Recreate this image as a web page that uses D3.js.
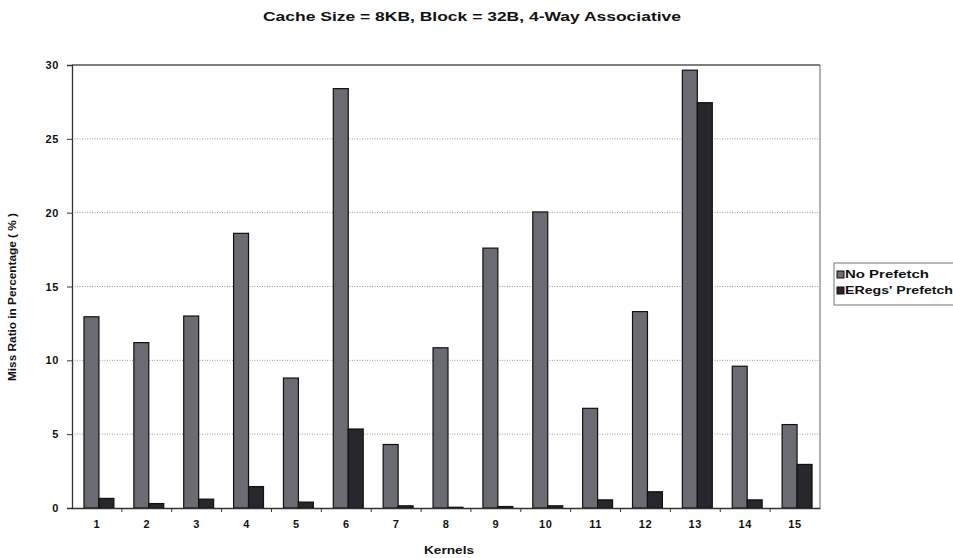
<!DOCTYPE html>
<html><head><meta charset="utf-8">
<script src="https://cdn.jsdelivr.net/npm/d3@7/dist/d3.min.js"></script>
<style>
html,body{margin:0;padding:0;background:#fff;}
svg{display:block;font-family:"Liberation Sans",Arial,sans-serif;}
</style></head>
<body>
<script>
const kernels = ["1","2","3","4","5","6","7","8","9","10","11","12","13","14","15"];
const seriesNames = ["No Prefetch","ERegs' Prefetch"];
const noPrefetch = [12.95, 11.2, 13.0, 18.6, 8.8, 28.4, 4.3, 10.85, 17.6, 20.05, 6.75, 13.3, 29.65, 9.6, 5.65];
const eregsPrefetch = [0.65, 0.3, 0.6, 1.45, 0.4, 5.35, 0.15, 0.05, 0.1, 0.15, 0.55, 1.1, 27.45, 0.55, 2.95];
const yTicks = [0,5,10,15,20,25,30];
const colors = ["#6b6b74","#26262c"];

const W=953,H=558;
const m={left:72,right:133,top:65,bottom:50};
const svg=d3.select("body").append("svg").attr("width",W).attr("height",H);

const x=d3.scaleBand().domain(kernels).range([m.left,W-m.right]).paddingInner(0.4).paddingOuter(0.2);
const x0=d3.scaleBand().domain(kernels).range([m.left,W-m.right]);
const xs=d3.scaleBand().domain(seriesNames).range([0,x.bandwidth()]);
const y=d3.scaleLinear().domain([0,30]).range([H-m.bottom,m.top]);

// gridlines
svg.append("g").selectAll("line").data(yTicks.filter(d=>d>0&&d<30)).join("line")
  .attr("x1",m.left).attr("x2",W-m.right).attr("y1",d=>y(d)).attr("y2",d=>y(d))
  .attr("stroke","#9a9a9a").attr("stroke-width",1).attr("stroke-dasharray","1,1.5");

// bars
const data=kernels.map((k,i)=>({k,vals:[noPrefetch[i],eregsPrefetch[i]]}));
const g=svg.append("g").selectAll("g").data(data).join("g")
  .attr("transform",d=>`translate(${x(d.k)+2},0)`);
g.selectAll("rect").data(d=>d.vals.map((v,j)=>({v,s:seriesNames[j],j}))).join("rect")
  .attr("x",d=>xs(d.s)).attr("width",xs.bandwidth())
  .attr("y",d=>y(d.v)).attr("height",d=>y(0)-y(d.v))
  .attr("fill",d=>colors[d.j]).attr("stroke","#111").attr("stroke-width",1.2);

// frame
svg.append("line").attr("x1",m.left).attr("x2",W-m.right).attr("y1",m.top).attr("y2",m.top).attr("stroke","#555").attr("stroke-width",1.3);
svg.append("line").attr("x1",W-m.right).attr("x2",W-m.right).attr("y1",m.top).attr("y2",H-m.bottom).attr("stroke","#666").attr("stroke-width",1);

// y axis
const ya=svg.append("g").attr("transform",`translate(${m.left},0)`)
  .call(d3.axisLeft(y).tickValues(yTicks).tickSize(5).tickPadding(8));
ya.select(".domain").attr("stroke","#333").attr("stroke-width",1.3);
ya.selectAll(".tick line").attr("stroke","#333");
ya.selectAll("text").attr("font-size",11).attr("font-weight","bold").attr("fill","#111").attr("letter-spacing",0.6);

// x axis
const xa=svg.append("g").attr("transform",`translate(0,${H-m.bottom})`)
  .call(d3.axisBottom(x0).tickSize(0).tickPadding(12));
xa.select(".domain").attr("stroke","#333").attr("stroke-width",1.3);
xa.selectAll("text").attr("font-size",11).attr("font-weight","bold").attr("fill","#111").attr("letter-spacing",0.6);
svg.append("g").selectAll("line").data(kernels.slice(1)).join("line")
  .attr("x1",d=>x0(d)).attr("x2",d=>x0(d)).attr("y1",H-m.bottom).attr("y2",H-m.bottom+4)
  .attr("stroke","#333");

// title
svg.append("text").attr("x",472).attr("y",21).attr("text-anchor","middle")
  .attr("font-size",12.5).attr("font-weight","bold").attr("fill","#111")
  .attr("textLength",418).attr("lengthAdjust","spacingAndGlyphs")
  .text("Cache Size = 8KB, Block = 32B, 4-Way Associative");
// axis titles
svg.append("text").attr("x",449).attr("y",554).attr("text-anchor","middle")
  .attr("font-size",11.5).attr("font-weight","bold").attr("fill","#111")
  .attr("textLength",50).attr("lengthAdjust","spacingAndGlyphs").text("Kernels");
svg.append("text").attr("transform","translate(16,297) rotate(-90)").attr("text-anchor","middle")
  .attr("font-size",10.5).attr("font-weight","bold").attr("fill","#111")
  .attr("textLength",168).attr("lengthAdjust","spacingAndGlyphs").text("Miss Ratio in Percentage ( % )");

// legend
const lg=svg.append("g").attr("transform","translate(834,263)");
lg.append("rect").attr("x",0).attr("y",0).attr("width",130).attr("height",42)
  .attr("fill","#fff").attr("stroke","#777");
const legW=[84,108];
seriesNames.forEach((s,i)=>{
  lg.append("rect").attr("x",3).attr("y",8+i*16).attr("width",7).attr("height",7)
    .attr("fill",colors[i]).attr("stroke","#111");
  lg.append("text").attr("x",11).attr("y",15+i*16).attr("font-size",10.5).attr("font-weight","bold")
    .attr("textLength",legW[i]).attr("lengthAdjust","spacingAndGlyphs").attr("fill","#111").text(s);
});
</script>
</body></html>
